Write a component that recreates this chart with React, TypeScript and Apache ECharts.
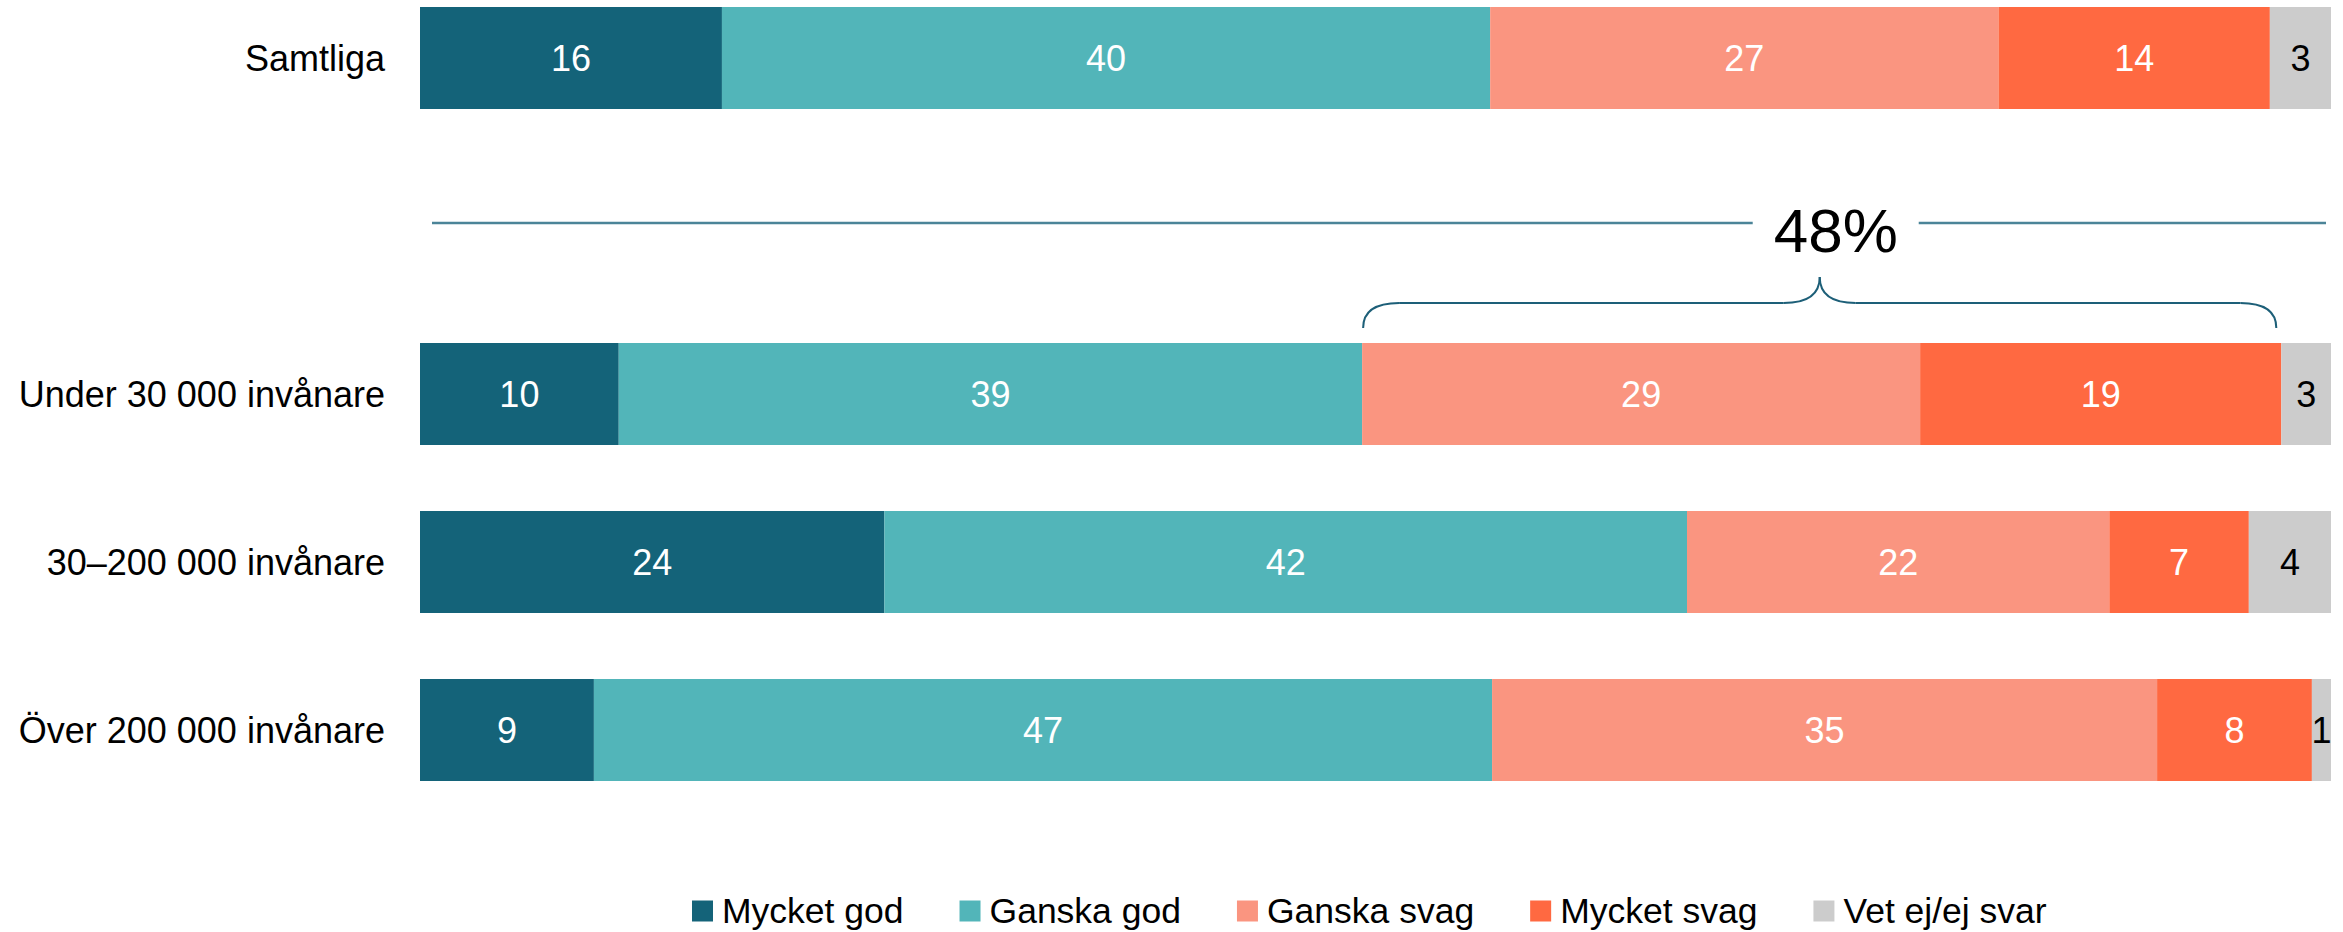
import React, { useEffect, useRef } from "react";
import * as echarts from "echarts";

const categories = [
  "Samtliga",
  "",
  "Under 30 000 invånare",
  "30–200 000 invånare",
  "Över 200 000 invånare",
];

const seriesNames = ["Mycket god", "Ganska god", "Ganska svag", "Mycket svag", "Vet ej/ej svar"];

// shares (percent); labels show them rounded
const mycketGod = [15.8, null, 10.4, 24.3, 9.1];
const ganskaGod = [40.2, null, 38.9, 42.0, 47.0];
const ganskaSvag = [26.6, null, 29.2, 22.1, 34.8];
const mycketSvag = [14.2, null, 18.9, 7.3, 8.1];
const vetEj = [3.2, null, 2.6, 4.3, 1.0];

const colors = ["#146379", "#52b5b9", "#fa9580", "#ff6941", "#cccccc"];
const labelColors = ["#ffffff", "#ffffff", "#ffffff", "#ffffff", "#000000"];

const FONT = "'Liberation Sans', Arial, sans-serif";

export default function App() {
  const ref = useRef<HTMLDivElement>(null);

  useEffect(() => {
    document.body.style.margin = "0";
    if (!ref.current) return;
    const chart = echarts.init(ref.current, null, { renderer: "svg" });
    const allData = [mycketGod, ganskaGod, ganskaSvag, mycketSvag, vetEj];

    const option: any = {
      animation: false,
      color: colors,
      textStyle: { fontFamily: FONT },
      grid: {
        left: 420,
        right: 12,
        top: -26,
        height: 840,
        containLabel: false,
        outerBoundsMode: "none",
      },
      legend: {
        data: seriesNames,
        left: 687,
        top: 888,
        itemWidth: 21,
        itemHeight: 21,
        itemGap: 56,
        icon: "rect",
        textStyle: { fontSize: 35.5, color: "#000", fontFamily: FONT, padding: [0, 0, 0, 4] },
      },
      xAxis: { type: "value", min: 0, max: 100, show: false },
      yAxis: {
        type: "category",
        inverse: true,
        data: categories,
        axisLine: { show: false },
        axisTick: { show: false },
        splitLine: { show: false },
        axisLabel: { fontSize: 36, color: "#000", margin: 35, fontFamily: FONT },
      },
      series: seriesNames.map((name, i) => ({
        name,
        type: "bar",
        stack: "total",
        barWidth: 102,
        data: allData[i].map((v) => (v === null ? "-" : v)),
        itemStyle: { color: colors[i] },
        label: {
          show: true,
          position: "inside",
          color: labelColors[i],
          fontSize: 36,
          fontFamily: FONT,
          formatter: (p: any) => String(Math.round(p.value)),
        },
      })),
    };
    chart.setOption(option);

    // annotation: 48 % brace over "Ganska svag" + "Mycket svag" for Under 30 000
    const row = 2;
    const startVal = mycketGod[row]! + ganskaGod[row]!;
    const negVal = ganskaSvag[row]! + mycketSvag[row]!;
    const endVal = startVal + negVal;
    const rowY = chart.convertToPixel({ yAxisIndex: 0 }, row) as number;
    const gapY = chart.convertToPixel({ yAxisIndex: 0 }, 1) as number;
    const x0 = chart.convertToPixel({ xAxisIndex: 0 }, 0) as number;
    const x100 = chart.convertToPixel({ xAxisIndex: 0 }, 100) as number;
    const xL = (chart.convertToPixel({ xAxisIndex: 0 }, startVal) as number) + 1;
    const xR = (chart.convertToPixel({ xAxisIndex: 0 }, endVal) as number) - 5;
    const tipX = (xL + xR) / 2;
    const barTop = rowY - 51;
    const yEnd = barTop - 15;
    const yH = barTop - 40;
    const yTip = barTop - 66;
    const r = 36;
    const braceStyle = { stroke: "#1d5f78", lineWidth: 2, fill: "none" };
    const lineY = gapY - 3;
    const textX = tipX + 16;
    const halfGap = 83;
    const lineStyle = { stroke: "#4b8498", lineWidth: 2.5 };

    chart.setOption({
      graphic: [
        { type: "line", shape: { x1: x0 + 12, y1: lineY, x2: textX - halfGap, y2: lineY }, style: lineStyle },
        { type: "line", shape: { x1: textX + halfGap, y1: lineY, x2: x100 - 5, y2: lineY }, style: lineStyle },
        {
          type: "text",
          x: textX,
          y: lineY + 7,
          style: {
            text: Math.round(negVal) + "%",
            fontSize: 62,
            fontFamily: FONT,
            fill: "#000",
            align: "center",
            verticalAlign: "middle",
          },
        },
        { type: "bezierCurve", shape: { x1: xL, y1: yEnd, cpx1: xL, cpy1: yH, x2: xL + r, y2: yH }, style: braceStyle },
        { type: "line", shape: { x1: xL + r, y1: yH, x2: tipX - r, y2: yH }, style: braceStyle },
        { type: "bezierCurve", shape: { x1: tipX - r, y1: yH, cpx1: tipX, cpy1: yH, x2: tipX, y2: yTip }, style: braceStyle },
        { type: "bezierCurve", shape: { x1: tipX, y1: yTip, cpx1: tipX, cpy1: yH, x2: tipX + r, y2: yH }, style: braceStyle },
        { type: "line", shape: { x1: tipX + r, y1: yH, x2: xR - r, y2: yH }, style: braceStyle },
        { type: "bezierCurve", shape: { x1: xR - r, y1: yH, cpx1: xR, cpy1: yH, x2: xR, y2: yEnd }, style: braceStyle },
      ],
    });

    return () => chart.dispose();
  }, []);

  return <div ref={ref} style={{ width: 2343, height: 932 }} />;
}
